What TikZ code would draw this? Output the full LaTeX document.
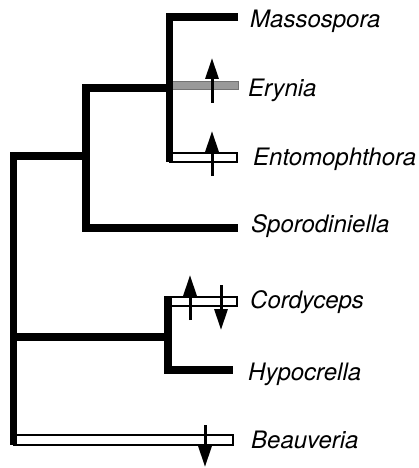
\documentclass[tikz,border=0pt]{standalone}
\usepackage{fontspec}
\setsansfont{TeX Gyre Heros}
\usetikzlibrary{arrows.meta,positioning}

\begin{document}
\begin{tikzpicture}[x=1pt,y=-1pt,>={Triangle[length=21pt,width=13pt]},
		branch/.style={line width=7.5pt,line join=miter},
		openbar/.style={draw=black,line width=1.6pt,fill=white},
		greybar/.style={draw=black!55,line width=0.8pt,fill=black!40},
		change/.style={->,line width=3pt},
		taxon/.style={anchor=base west,inner sep=0pt,font=\fontsize{24}{28}\selectfont\sffamily\itshape}]
		\useasboundingbox (0,0) rectangle (418,468);
		% Inner nodes
		\coordinate (root) at (13.5,156);
		\coordinate (rootend) at (13.5,445);
		\coordinate (ento) at (86,156);
		\coordinate (entotop) at (86,88);
		\coordinate (mas) at (169.5,88);
		\coordinate (clav) at (168,337);
		\coordinate (clavtop) at (168,296);
		% Tips
		\coordinate (tMas) at (238,17);
		\coordinate (tSpo) at (238,228);
		\coordinate (tHyp) at (233,370);
		% Bars
		\draw[greybar] (170,81.5) rectangle (238,89.5);
		\draw[openbar] (170,153) rectangle (237,162);
		\draw[openbar] (168,297) rectangle (237,306);
		\draw[openbar] (13.5,435) rectangle (233,445);
		% Branches
		\draw[branch] (ento) -- (root) -- (rootend);
		\draw[branch] (mas) -- (entotop) -- (entotop |- tSpo) -- (tSpo);
		\draw[branch] (tMas) -- (tMas -| mas) -- (169.5,162);
		\draw[branch] (root |- clav) -- (clav);
		\draw[branch] (clavtop) -- (clavtop |- tHyp) -- (tHyp);
		% Labels
		\node[taxon] (Mas) at (250,28) {Massospora};
		\node[taxon] (Ery) at (248,97) {Erynia};
		\node[taxon] (Ent) at (253,165) {Entomophthora};
		\node[taxon] (Spo) at (251,232) {Sporodiniella};
		\node[taxon] (Cor) at (250,308) {Cordyceps};
		\node[taxon] (Hyp) at (248,380) {Hypocrella};
		\node[taxon] (Bea) at (251,448) {Beauveria};
		% Character changes
		\draw[change] (212,103) -- (212,58);
		\draw[change] (212,176) -- (212,131);
		\draw[change] (190,320) -- (190,275);
		\draw[change] (221,285) -- (221,330);
		\draw[change] (205,425) -- (205,467);
	\end{tikzpicture}
\end{document}
